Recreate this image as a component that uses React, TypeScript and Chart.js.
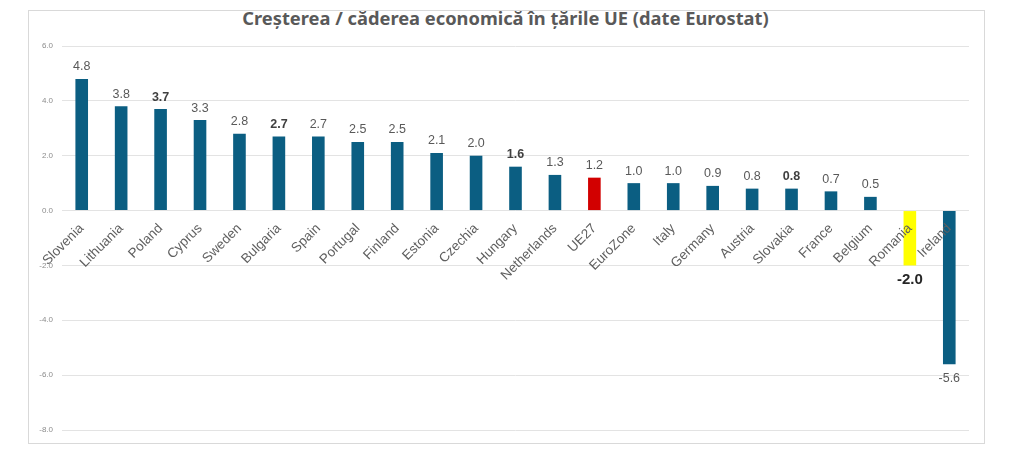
import React, { useEffect, useRef } from "react";
import { Chart, registerables } from "chart.js";

Chart.register(...registerables);

const categories = [
  "Slovenia", "Lithuania", "Poland", "Cyprus", "Sweden", "Bulgaria", "Spain",
  "Portugal", "Finland", "Estonia", "Czechia", "Hungary", "Netherlands", "UE27",
  "EuroZone", "Italy", "Germany", "Austria", "Slovakia", "France", "Belgium",
  "Romania", "Ireland",
];
const growth = [
  4.8, 3.8, 3.7, 3.3, 2.8, 2.7, 2.7, 2.5, 2.5, 2.1, 2.0, 1.6, 1.3, 1.2,
  1.0, 1.0, 0.9, 0.8, 0.8, 0.7, 0.5, -2.0, -5.6,
];
const yTicks = [-8, -6, -4, -2, 0, 2, 4, 6];
const boldLabelCategories = ["Poland", "Bulgaria", "Hungary", "Slovakia", "Romania"];
const redCategory = "UE27";
const yellowCategory = "Romania";

const TITLE = "Creșterea / căderea economică în țările UE (date Eurostat)";

const FONT = "'Liberation Sans', Arial, sans-serif";

const valueLabels = {
  id: "valueLabels",
  afterDatasetsDraw(chart: any) {
    const ctx = chart.ctx;
    const meta = chart.getDatasetMeta(0);
    ctx.save();
    ctx.textAlign = "center";
    ctx.textBaseline = "middle";
    meta.data.forEach((el: any, i: number) => {
      const v = growth[i];
      const cat = categories[i];
      const bold = boldLabelCategories.includes(cat);
      const special = cat === yellowCategory;
      ctx.font = `${bold ? "bold " : ""}${special ? 15 : 12.5}px ${FONT}`;
      ctx.fillStyle = special ? "#262626" : bold ? "#404040" : "#595959";
      const y = v >= 0 ? el.y - 12 : el.y + 14;
      ctx.fillText(v.toFixed(1), el.x, y);
    });
    ctx.restore();
  },
};

export default function App() {
  const ref = useRef<HTMLCanvasElement | null>(null);

  useEffect(() => {
    if (!ref.current) return;
    const colors = categories.map((c) =>
      c === redCategory ? "#d20000" : c === yellowCategory ? "#ffff00" : "#0b5e82"
    );
    const chart = new Chart(ref.current, {
      type: "bar",
      data: {
        labels: categories,
        datasets: [
          {
            data: growth,
            backgroundColor: colors,
            borderWidth: 0,
            barPercentage: 0.32,
            categoryPercentage: 1,
          },
        ],
      },
      options: {
        animation: false,
        responsive: false,
        devicePixelRatio: 1,
        layout: { padding: { left: 28, right: 55, top: 46, bottom: 31 } },
        plugins: {
          legend: { display: false },
          tooltip: { enabled: false },
          title: { display: false },
        },
        scales: {
          x: {
            position: { y: 0 } as any,
            grid: { display: false },
            border: { display: false },
            ticks: {
              z: 1,
              minRotation: 45,
              maxRotation: 45,
              autoSkip: false,
              color: "#5f5f5f",
              font: { family: FONT, size: 13.5 },
              padding: 2,
            } as any,
          },
          y: {
            min: -8,
            max: 6,
            afterBuildTicks: (scale: any) => {
              scale.ticks = yTicks.map((v) => ({ value: v }));
            },
            afterFit: (scale: any) => {
              scale.width = 34;
            },
            grid: { color: "#e3e3e3", lineWidth: 1, drawTicks: false },
            border: { display: false },
            ticks: {
              color: "#8c8c8c",
              font: { family: FONT, size: 8 },
              padding: 9,
              callback: (v: any) => Number(v).toFixed(1),
            },
          },
        },
      },
      plugins: [valueLabels],
    });
    return () => chart.destroy();
  }, []);

  return (
    <div style={{ position: "fixed", left: 0, top: 0, width: 1024, height: 461, background: "#fff" }}>
      <div
        style={{
          position: "absolute",
          left: 28,
          top: 10,
          width: 955,
          height: 432,
          border: "1px solid #d9d9d9",
        }}
      />
      <div
        style={{
          position: "absolute",
          left: 0,
          top: 7,
          width: 1011,
          textAlign: "center",
          fontFamily: "'Noto Sans', sans-serif",
          fontWeight: 700,
          fontSize: 18.3,
          color: "#595959",
          lineHeight: "22px",
        }}
      >
        {TITLE}
      </div>
      <canvas ref={ref} width={1024} height={461} style={{ position: "absolute", left: 0, top: 0 }} />
    </div>
  );
}
